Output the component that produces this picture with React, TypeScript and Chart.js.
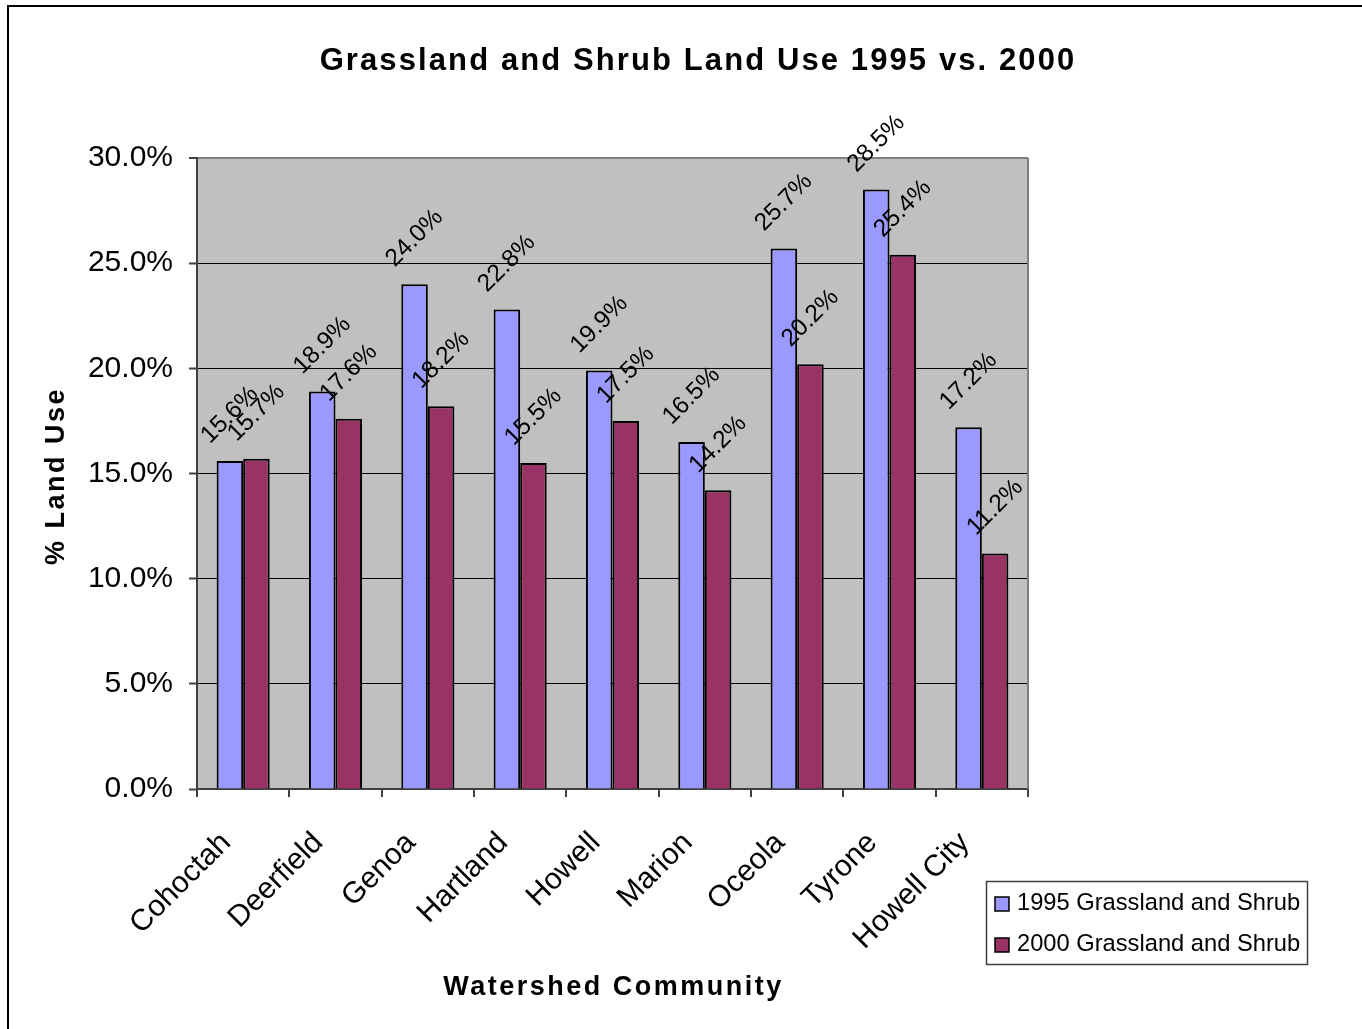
import { useEffect, useRef } from "react";
import { Chart, registerables } from "chart.js";

Chart.register(...registerables);

// Share of land in grassland and shrub, per watershed community (%)
const communities = [
  "Cohoctah",
  "Deerfield",
  "Genoa",
  "Hartland",
  "Howell",
  "Marion",
  "Oceola",
  "Tyrone",
  "Howell City",
];
const use1995 = [15.6, 18.9, 24.0, 22.8, 19.9, 16.5, 25.7, 28.5, 17.2];
const use2000 = [15.7, 17.6, 18.2, 15.5, 17.5, 14.2, 20.2, 25.4, 11.2];
const seriesNames = ["1995 Grassland and Shrub", "2000 Grassland and Shrub"];
const seriesColors = ["#9999FF", "#993366"];
const yTicks = [0, 5, 10, 15, 20, 25, 30];

const chartTitle = "Grassland and Shrub Land Use 1995 vs. 2000";
const xTitle = "Watershed Community";
const yTitle = "% Land Use";

const FONT = '"Liberation Sans", Arial, Helvetica, sans-serif';
const W = 1362;
const H = 1029;

const pct = (v: number) => v.toFixed(1) + "%";

// Background, outer frame and the grey plot area
const framePlugin = {
  id: "frame",
  beforeDraw(chart: any) {
    const { ctx, chartArea: a } = chart;
    ctx.save();
    ctx.fillStyle = "#ffffff";
    ctx.fillRect(0, 0, W, H);
    ctx.strokeStyle = "#000000";
    ctx.lineWidth = 2;
    ctx.strokeRect(8, 6, W + 40, H + 40);
    ctx.fillStyle = "#C0C0C0";
    ctx.fillRect(a.left, a.top, a.right - a.left, a.bottom - a.top);
    ctx.restore();
  },
  beforeDatasetsDraw(chart: any) {
    const { ctx, chartArea: a } = chart;
    ctx.save();
    ctx.strokeStyle = "#808080";
    ctx.lineWidth = 2;
    ctx.beginPath();
    ctx.moveTo(a.right, a.top);
    ctx.lineTo(a.right, a.bottom);
    ctx.stroke();
    ctx.restore();
  },
};

// Titles, rotated category labels, value labels and the legend box
const annotatePlugin = {
  id: "annotate",
  afterDraw(chart: any) {
    const { ctx, chartArea: a } = chart;
    const xScale = chart.scales.x;
    ctx.save();
    ctx.fillStyle = "#000000";

    // chart title
    ctx.font = `bold 31px ${FONT}`;
    (ctx as any).letterSpacing = "2.1px";
    ctx.textAlign = "center";
    ctx.textBaseline = "alphabetic";
    ctx.fillText(chartTitle, 698, 70);

    // axis titles
    ctx.font = `bold 27px ${FONT}`;
    (ctx as any).letterSpacing = "2.5px";
    ctx.fillText(xTitle, (a.left + a.right) / 2 + 1, 995);
    ctx.save();
    ctx.translate(64, 476);
    ctx.rotate(-Math.PI / 2);
    ctx.fillText(yTitle, 0, 0);
    ctx.restore();
    (ctx as any).letterSpacing = "0px";

    // category labels at 45 degrees
    ctx.font = `30px ${FONT}`;
    ctx.textAlign = "right";
    ctx.textBaseline = "middle";
    communities.forEach((name, i) => {
      const x = xScale.getPixelForValue(i) - 17;
      const y = a.bottom + 49;
      ctx.save();
      ctx.translate(x, y);
      ctx.rotate(-Math.PI / 4);
      ctx.fillText(name, 0, 0);
      ctx.restore();
    });

    // value labels above each bar
    ctx.font = `24.5px ${FONT}`;
    ctx.textAlign = "center";
    ctx.textBaseline = "middle";
    chart.data.datasets.forEach((ds: any, di: number) => {
      const meta = chart.getDatasetMeta(di);
      meta.data.forEach((el: any, i: number) => {
        ctx.save();
        ctx.translate(el.x, el.y - 46);
        ctx.rotate(-Math.PI / 4);
        ctx.fillText(pct(ds.data[i]), 0, 0);
        ctx.restore();
      });
    });

    // legend
    ctx.strokeStyle = "#404040";
    ctx.lineWidth = 1.5;
    ctx.strokeRect(986.5, 881.5, 321, 83);
    ctx.font = `23.7px ${FONT}`;
    ctx.textAlign = "left";
    ctx.textBaseline = "middle";
    const rows = [904, 945];
    seriesNames.forEach((name, i) => {
      const cy = rows[i];
      ctx.fillStyle = seriesColors[i];
      ctx.fillRect(995, cy - 7, 14, 14);
      ctx.strokeStyle = "#000000";
      ctx.lineWidth = 1.5;
      ctx.strokeRect(995, cy - 7, 14, 14);
      ctx.fillStyle = "#000000";
      ctx.fillText(name, 1017, cy - 1);
    });

    ctx.restore();
  },
};

export default function App() {
  const canvasRef = useRef<HTMLCanvasElement | null>(null);

  useEffect(() => {
    const canvas = canvasRef.current;
    if (!canvas) return;
    const chart = new Chart(canvas, {
      type: "bar",
      data: {
        labels: communities,
        datasets: [use1995, use2000].map((values, i) => ({
          label: seriesNames[i],
          data: values,
          backgroundColor: seriesColors[i],
          borderColor: "#000000",
          borderWidth: 2,
          categoryPercentage: 0.575,
          barPercentage: 1.0,
        })),
      },
      options: {
        responsive: false,
        maintainAspectRatio: false,
        devicePixelRatio: 1,
        animation: false,
        layout: { padding: { left: 0, top: 158, right: 334, bottom: 0 } },
        plugins: {
          legend: { display: false },
          title: { display: false },
          tooltip: { enabled: false },
        },
        scales: {
          x: {
            offset: true,
            grid: {
              offset: true,
              drawOnChartArea: false,
              drawTicks: true,
              tickLength: 8,
              color: "#404040",
              lineWidth: 2,
            },
            border: { display: true, color: "#404040", width: 2 },
            ticks: { display: false },
            afterFit: (s: any) => {
              s.height = 240;
            },
          },
          y: {
            min: yTicks[0],
            max: yTicks[yTicks.length - 1],
            afterBuildTicks: (s: any) => {
              s.ticks = yTicks.map((v) => ({ value: v }));
            },
            ticks: {
              callback: (v: any) => pct(Number(v)),
              font: { family: FONT, size: 30 },
              color: "#000000",
              padding: 16,
            },
            grid: {
              color: (c: any) => (c.tick && c.tick.value === 30 ? "#808080" : "#000000"),
              lineWidth: (c: any) => (c.tick && c.tick.value === 30 ? 2 : 1),
              drawTicks: true,
              tickLength: 8,
              tickColor: "#404040",
              tickWidth: 2,
            },
            border: { display: true, color: "#404040", width: 2 },
            afterFit: (s: any) => {
              s.width = 197;
            },
          },
        },
      },
      plugins: [framePlugin, annotatePlugin],
    });
    return () => chart.destroy();
  }, []);

  return (
    <div
      style={{
        position: "fixed",
        left: 0,
        top: 0,
        width: W,
        height: H,
        overflow: "hidden",
        background: "#ffffff",
      }}
    >
      <canvas ref={canvasRef} width={W} height={H} style={{ display: "block" }} />
    </div>
  );
}
